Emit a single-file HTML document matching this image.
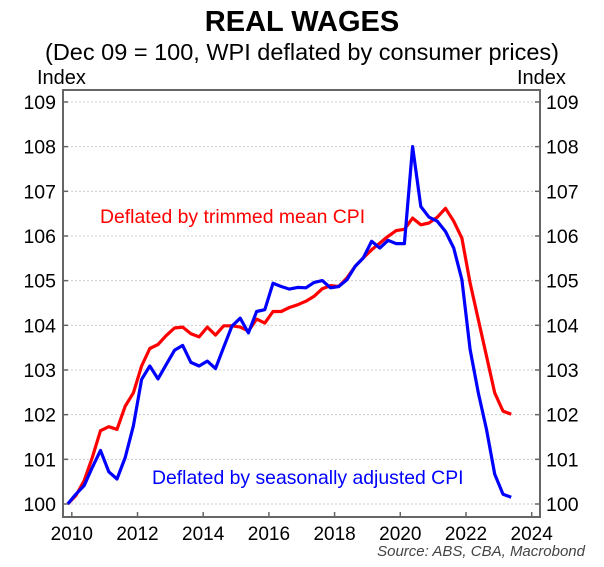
<!DOCTYPE html>
<html><head><meta charset="utf-8"><style>
body{margin:0;background:#fff;}
svg{display:block;font-family:"Liberation Sans",sans-serif;}
</style></head><body>
<svg id="chart" width="604" height="567" viewBox="0 0 604 567">
<text x="302" y="31" text-anchor="middle" font-size="29" font-weight="bold">REAL WAGES</text>
<text x="302" y="60" text-anchor="middle" font-size="23.5">(Dec 09 = 100, WPI deflated by consumer prices)</text>
<text x="37" y="84" font-size="20">Index</text>
<text x="517" y="84" font-size="20">Index</text>
<g id="grid"></g>
<g id="series"></g>
<rect x="63" y="90" width="477" height="427" fill="none" stroke="#666" stroke-width="2"/>
<g id="axes"></g>
<text x="100" y="223" font-size="19.4" fill="#ff0000">Deflated by trimmed mean CPI</text>
<text x="152" y="484" font-size="19.4" fill="#0000ff">Deflated by seasonally adjusted CPI</text>
<text x="585" y="556" text-anchor="end" font-size="15" font-style="italic" fill="#444">Source: ABS, CBA, Macrobond</text>
</svg>
<script>
const yTicks=[100,101,102,103,104,105,106,107,108,109];
const xTicks=[2010,2012,2014,2016,2018,2020,2022,2024];
const startYear=2009.875;
const trimmedMean=[100,100.19,100.52,101.04,101.64,101.73,101.67,102.19,102.49,103.09,103.48,103.57,103.77,103.94,103.96,103.81,103.74,103.96,103.78,103.99,103.99,103.96,103.87,104.14,104.05,104.31,104.31,104.40,104.46,104.54,104.65,104.82,104.89,104.87,105.06,105.32,105.51,105.69,105.84,105.99,106.12,106.15,106.40,106.25,106.29,106.42,106.62,106.33,105.95,104.95,104.13,103.31,102.49,102.08,102.01];
const seasAdj=[100,100.22,100.41,100.82,101.2,100.72,100.56,101.04,101.75,102.79,103.09,102.8,103.12,103.44,103.55,103.17,103.09,103.2,103.03,103.51,103.98,104.16,103.83,104.31,104.35,104.94,104.87,104.81,104.85,104.84,104.96,105.0,104.84,104.87,105.02,105.32,105.51,105.88,105.73,105.9,105.83,105.83,108.0,106.66,106.42,106.33,106.1,105.73,105.02,103.46,102.49,101.67,100.67,100.22,100.15];
const NS="http://www.w3.org/2000/svg";
const X=t=>71.8+(t-2010)*32.85;
const Y=v=>504-(v-100)*44.67;
function mk(tag,attrs,parent){const e=document.createElementNS(NS,tag);for(const k in attrs)e.setAttribute(k,attrs[k]);parent.appendChild(e);return e;}
const grid=document.getElementById('grid'),axes=document.getElementById('axes'),series=document.getElementById('series');
yTicks.forEach(v=>{
  const g=mk('line',{x1:63,x2:540,y1:Y(v),y2:Y(v),stroke:'#ccc','stroke-dasharray':'2,2','stroke-width':1},grid);
  
  
  mk('line',{x1:63,x2:68,y1:Y(v),y2:Y(v),stroke:'#666','stroke-width':1.5},axes);
  mk('line',{x1:535,x2:540,y1:Y(v),y2:Y(v),stroke:'#666','stroke-width':1.5},axes);
  const l=mk('text',{x:56,y:Y(v)+7,'text-anchor':'end','font-size':19.5},axes);l.textContent=v;
  
  
  const r=mk('text',{x:546,y:Y(v)+7,'font-size':19.5},axes);r.textContent=v;
  
  
});
xTicks.forEach(t=>{
  mk('line',{x1:X(t),x2:X(t),y1:512,y2:517,stroke:'#666','stroke-width':1.5},axes);
  const l=mk('text',{x:X(t),y:540,'text-anchor':'middle','font-size':19},axes);l.textContent=t;
  
  
});
function line(data,color,name){
  const pts=data.map((v,i)=>X(startYear+0.25*i).toFixed(1)+','+Y(v).toFixed(1)).join(' ');
  const p=mk('polyline',{points:pts,fill:'none',stroke:color,'stroke-width':3.2,'stroke-linejoin':'round'},series);
  
  
}
line(trimmedMean,'#ff0000','trimmed-mean-line');
line(seasAdj,'#0000ff','seasonally-adjusted-line');
</script>
</body></html>
